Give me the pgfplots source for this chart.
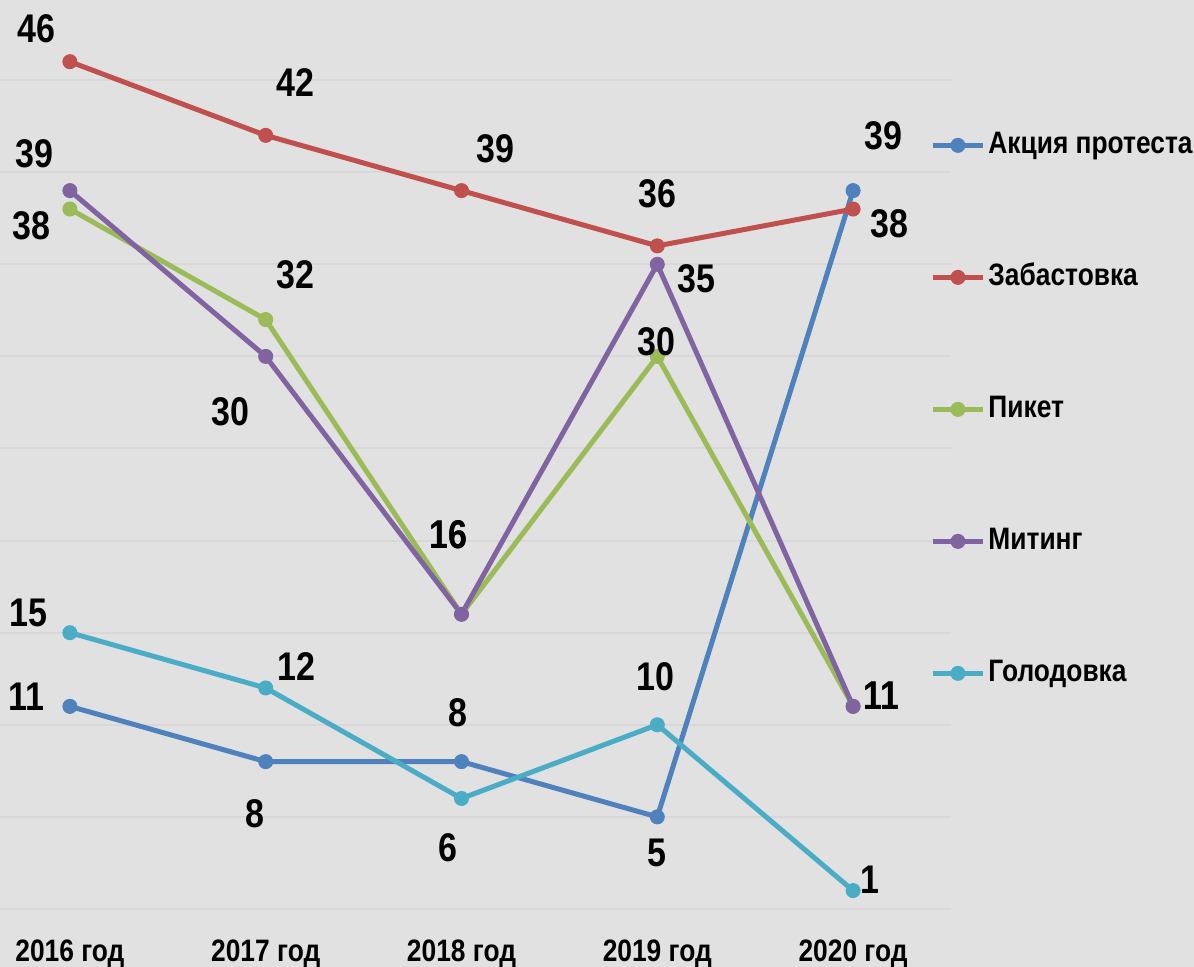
\documentclass[border=0pt]{standalone}
\usepackage{pgfplots}
\pgfplotsset{compat=1.18}
\usepackage{pgfplotstable}
\usepackage{fontspec}
\setmainfont{Liberation Sans}[FakeStretch=0.85]
\definecolor{bgc}{RGB}{225,225,225}
\definecolor{gridc}{RGB}{216,216,216}
\definecolor{cblue}{HTML}{4F81BD}
\definecolor{cred}{HTML}{C0504D}
\definecolor{cgreen}{HTML}{9BBB59}
\definecolor{cpurple}{HTML}{8064A2}
\definecolor{ccyan}{HTML}{4BACC6}

\pgfplotstableread{
x y dx dy
0 11 -21.5 5
1 8 -5.5 -26
2 8 -2 24.5
3 5 0 -18
4 39 15 27.5
}\blue
\pgfplotstableread{
x y dx dy
0 46 -16.5 16.5
1 42 15 26.5
2 39 17 21
3 36 0 26
4 38 18 -7.5
}\red
\pgfplotstableread{
x y dx dy
0 38 -19 -8.5
1 32 15 22.5
2 16 -6.5 40
3 30 -0.5 7.5
4 11 14 5.5
}\green
\pgfplotstableread{
x y dx dy
0 39 -17.5 18.5
1 30 -17.5 -27.5
2 16 -6.5 40
3 35 19.5 -7
4 11 14 5.5
}\purple
\pgfplotstableread{
x y dx dy
0 15 -20.5 10
1 12 15.5 10.5
2 6 -7 -24.5
3 10 -1 24
4 1 8.5 5.5
}\cyan

\begin{document}
\begin{tikzpicture}
\fill[bgc] (0,0) rectangle (597pt,483.5pt);
\begin{axis}[
  at={(-14pt,29pt)}, anchor=south west,
  scale only axis, width=489.5pt, height=454.5pt,
  xmin=-0.5, xmax=4.5, ymin=0, ymax=49.35,
  clip=false,
  axis line style={draw=none}, tick style={draw=none},
  ytick={0,5,...,45}, yticklabels={},
  ymajorgrids, grid style={color=gridc, line width=1pt},
  xtick={0,1,2,3,4},
  xticklabels={2016 год,2017 год,2018 год,2019 год,2020 год},
  xticklabel style={font=\fontsize{15.5}{16}\selectfont\bfseries, anchor=base, yshift=-26.5pt},
  /pgf/number format/assume math mode=true,
  every axis plot/.append style={line width=2.5pt, mark=*, mark size=3.5pt, mark options={solid, line width=0.5pt}},
  nodes near coords, point meta=y,
  visualization depends on={\thisrow{dx}\as\dx},
  visualization depends on={\thisrow{dy}\as\dy},
  every node near coord/.append style={anchor=center, inner sep=0pt, text=black, font=\fontsize{20}{21}\selectfont\bfseries, xshift=\dx pt, yshift=\dy pt},
  legend image code/.code={\draw[mark repeat=2,mark phase=2,#1] plot coordinates {(0pt,0pt)(12.5pt,0pt)(25pt,0pt)};},
  legend cell align=left,
  legend style={at={(rel axis cs:0.9786,0.8559)}, anchor=north west, draw=none, fill=none,
    font=\fontsize{15.5}{16}\selectfont\bfseries, row sep=52pt, inner sep=0pt,
    nodes={inner xsep=1.5pt, inner ysep=0pt, text height=11pt, text depth=3pt}},
]
\addplot[color=cblue] table[x=x,y=y] {\blue};
\addlegendentry{Акция протеста}
\addplot[color=cred] table[x=x,y=y] {\red};
\addlegendentry{Забастовка}
\addplot[color=cgreen] table[x=x,y=y] {\green};
\addlegendentry{Пикет}
\addplot[color=cpurple] table[x=x,y=y] {\purple};
\addlegendentry{Митинг}
\addplot[color=ccyan] table[x=x,y=y] {\cyan};
\addlegendentry{Голодовка}
\end{axis}
\pgfresetboundingbox
\useasboundingbox (0,0) rectangle (597pt,483.5pt);
\end{tikzpicture}
\end{document}
